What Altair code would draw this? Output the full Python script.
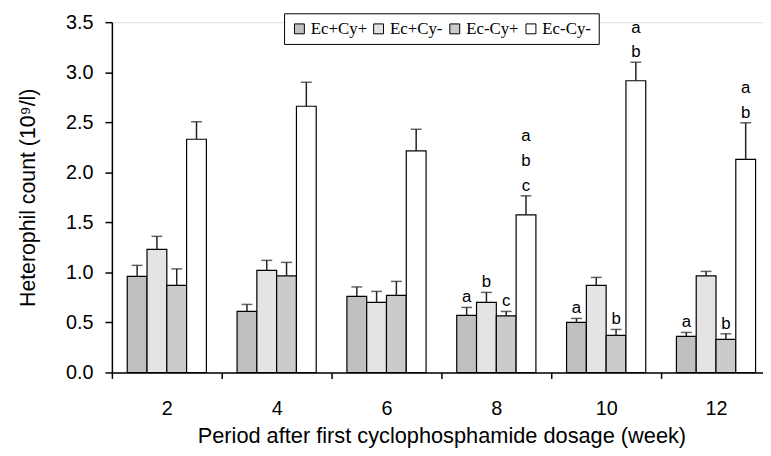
import altair as alt
import pandas as pd

weeks = ["2", "4", "6", "8", "10", "12"]
groups = ["Ec+Cy+", "Ec+Cy-", "Ec-Cy+", "Ec-Cy-"]
colors = ["#c0c0c0", "#e4e4e4", "#cbcbcb", "#ffffff"]

mean_ecp_cyp = [0.96, 0.61, 0.76, 0.57, 0.50, 0.36]
mean_ecp_cym = [1.23, 1.02, 0.70, 0.70, 0.87, 0.965]
mean_ecm_cyp = [0.87, 0.965, 0.77, 0.565, 0.37, 0.33]
mean_ecm_cym = [2.33, 2.66, 2.215, 1.575, 2.915, 2.13]

se_ecp_cyp = [0.11, 0.07, 0.095, 0.08, 0.04, 0.04]
se_ecp_cym = [0.13, 0.10, 0.11, 0.10, 0.08, 0.045]
se_ecm_cyp = [0.165, 0.135, 0.14, 0.045, 0.06, 0.056]
se_ecm_cym = [0.175, 0.24, 0.215, 0.19, 0.185, 0.365]

# significance letters, stacked top-to-bottom
let_ecp_cyp = ["", "", "", "a", "a", "a"]
let_ecp_cym = ["", "", "", "b", "", ""]
let_ecm_cyp = ["", "", "", "c", "b", "b"]
let_ecm_cym = ["", "", "", "abc", "ab", "ab"]

means = [mean_ecp_cyp, mean_ecp_cym, mean_ecm_cyp, mean_ecm_cym]
ses = [se_ecp_cyp, se_ecp_cym, se_ecm_cyp, se_ecm_cym]
lets = [let_ecp_cyp, let_ecp_cym, let_ecm_cyp, let_ecm_cym]

rows = []
letter_rows = []
for g, m, s, l in zip(groups, means, ses, lets):
    for i, w in enumerate(weeks):
        rows.append({"week": w, "group": g, "mean": m[i], "top": m[i] + s[i]})
        chars = list(l[i])
        for k, ch in enumerate(reversed(chars)):
            letter_rows.append({"week": w, "group": g, "top": m[i] + s[i],
                                "letter": ch, "level": k})
df = pd.DataFrame(rows)
df_let = pd.DataFrame(letter_rows)

FONT = "Liberation Sans"

x_enc = alt.X(
    "week:N",
    sort=weeks,
    scale=alt.Scale(range=[0, 666], paddingInner=0, paddingOuter=0),
    axis=alt.Axis(
        title="Period after first cyclophosphamide dosage (week)",
        labelAngle=0,
        tickBand="extent",
        tickSize=6,
        tickWidth=1.5,
        tickColor="black",
        domainColor="black",
        domainWidth=1.5,
        labelFont=FONT,
        labelFontSize=20,
        labelColor="black",
        labelPadding=20,
        titleFont=FONT,
        titleFontSize=22,
        titleFontWeight="normal",
        titleColor="black",
        titleBaseline="middle",
        titleY=64,
    ),
)
xoff = alt.XOffset("group:N", sort=groups,
                   scale=alt.Scale(paddingInner=0, paddingOuter=0.775))

y_scale = alt.Scale(domain=[0, 3.5])

bars = alt.Chart(df).mark_bar(stroke="black", strokeWidth=1.2).encode(
    x=x_enc,
    xOffset=xoff,
    y=alt.Y(
        "mean:Q",
        scale=y_scale,
        axis=alt.Axis(
            title="Heterophil count (10⁹/l)",
            values=[0, 0.5, 1.0, 1.5, 2.0, 2.5, 3.0, 3.5],
            format=".1f",
            grid=False,
            tickSize=7,
            tickWidth=1.5,
            tickColor="black",
            domainColor="black",
            domainWidth=1.5,
            labelFont=FONT,
            labelFontSize=20,
            labelColor="black",
            labelPadding=12,
            titleFont=FONT,
            titleFontSize=21.5,
            titleFontWeight="normal",
            titleColor="black",
            titleBaseline="middle",
            titleX=-84,
        ),
    ),
    fill=alt.Fill(
        "group:N",
        sort=groups,
        scale=alt.Scale(domain=groups, range=colors),
        legend=alt.Legend(
            title=None,
            orient="none",
            legendX=174,
            legendY=-9,
            direction="horizontal",
            gridAlign="each",
            strokeColor="black",
            fillColor="white",
            padding=7,
            symbolType="square",
            symbolSize=100,
            symbolStrokeColor="black",
            symbolStrokeWidth=1,
            labelFont="Liberation Serif",
            labelFontSize=17,
            labelColor="black",
            labelOffset=3,
            columnPadding=3,
        ),
    ),
)

rules = alt.Chart(df).mark_rule(color="#222222", strokeWidth=1.5).encode(
    x=alt.X("week:N", sort=weeks),
    xOffset=alt.XOffset("group:N", sort=groups),
    y=alt.Y("mean:Q", scale=y_scale),
    y2="top:Q",
)

caps = alt.Chart(df).mark_tick(color="#222222", size=11, thickness=1.5).encode(
    x=alt.X("week:N", sort=weeks),
    xOffset=alt.XOffset("group:N", sort=groups),
    y=alt.Y("top:Q", scale=y_scale),
)

letter_layers = []
for k in range(3):
    letter_layers.append(
        alt.Chart(df_let).transform_filter(alt.datum.level == k).mark_text(
            font=FONT, fontSize=17, color="black", baseline="alphabetic",
            dy=-5 - 25 * k,
        ).encode(
            x=alt.X("week:N", sort=weeks),
            xOffset=alt.XOffset("group:N", sort=groups),
            y=alt.Y("top:Q", scale=y_scale),
            text="letter:N",
        )
    )

chart = alt.layer(bars, rules, caps, *letter_layers).properties(
    width=658,
    height=354,
    autosize=alt.AutoSizeParams(type="none"),
    padding={"left": 105, "top": 12, "right": 0, "bottom": 74},
).configure_view(stroke=None).configure(background="white")

chart.save("out.html", embed_options={"renderer": "svg", "actions": False})
